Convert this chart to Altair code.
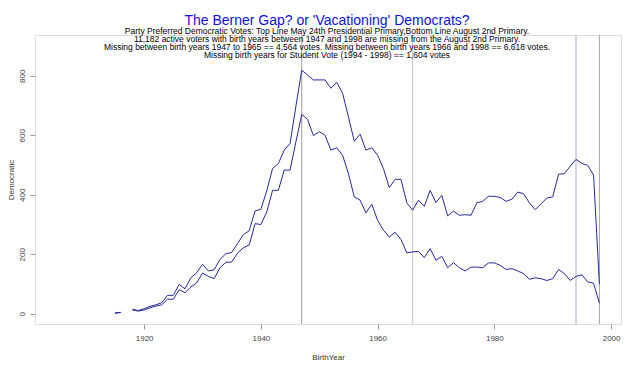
import altair as alt
import pandas as pd

# ---- data ----
years = [1915, 1916] + list(range(1918, 1999))
segment = [0, 0] + [1] * (len(years) - 2)

top_line = [3, 5,
    15, 11, 17, 25, 30, 37, 62, 62, 99, 84,
    121, 138, 166, 144, 148, 183, 202, 206, 236, 266,
    279, 346, 351, 413, 488, 505, 550, 572, 698, 819,
    802, 786, 786, 786, 758, 778, 741, 662, 580, 604,
    550, 558, 533, 488, 424, 452, 452, 373, 348, 382,
    361, 415, 374, 398, 329, 345, 331, 333, 331, 373,
    378, 395, 395, 391, 378, 385, 409, 404, 373, 350,
    370, 389, 393, 469, 471, 496, 519, 505, 499, 466,
    99]

bottom_line = [2, 4,
    13, 9, 13, 20, 26, 30, 49, 49, 81, 71,
    90, 104, 137, 126, 118, 155, 173, 174, 204, 222,
    231, 303, 300, 342, 415, 415, 483, 483, 578, 670,
    653, 599, 612, 600, 550, 558, 533, 471, 393, 382,
    339, 368, 314, 281, 258, 274, 250, 205, 208, 210,
    189, 219, 180, 193, 155, 172, 155, 144, 157, 157,
    155, 171, 171, 163, 149, 152, 144, 135, 116, 121,
    118, 112, 118, 149, 135, 112, 126, 131, 107, 103,
    36]

vline_years = [1947, 1966, 1994, 1998]
vline_colors = ["#9c9c9c", "#c4c4c4", "#d4d4e6", "#a4a4a4"]
vline_widths = [1, 1, 2, 1]

x_ticks = [1920, 1940, 1960, 1980, 2000]
y_ticks = [0, 200, 400, 600, 800]

title_text = "The Berner Gap? or 'Vacationing' Democrats?"
subtitle_lines = [
    "Party Preferred Democratic Votes: Top Line May 24th Presidential Primary,Bottom Line August 2nd Primary.",
    "11,182 active voters with birth years between 1947 and 1998 are missing from the August 2nd Primary.",
    "Missing between birth years 1947 to 1965 == 4,564 votes. Missing between birth years 1966 and 1998 == 6,618 votes.",
    "Missing birth years for Student Vote (1994 - 1998) == 1,604 votes",
]

# ---- tables ----
rows = []
for name, vals in (("top", top_line), ("bottom", bottom_line)):
    for yr, sg, v in zip(years, segment, vals):
        rows.append({"BirthYear": yr, "Democratic": v, "key": f"{name}-{sg}"})
df = pd.DataFrame(rows)

vdf = pd.DataFrame({"year": vline_years, "col": vline_colors, "w": vline_widths})

W, H = 586, 289
x_scale = alt.Scale(domain=[1901.3, 2001.7], nice=False, zero=False)
y_scale = alt.Scale(domain=[-34.3, 937], nice=False, zero=False)

lines = alt.Chart(df).mark_line(color="#27279a", strokeWidth=1).encode(
    x=alt.X("BirthYear:Q", scale=x_scale,
            axis=alt.Axis(values=x_ticks, format="d", title="BirthYear", grid=False,
                          domain=False, tickColor="#9a9a9a", tickSize=5,
                          labelFont="Liberation Sans", labelFontSize=8, labelColor="#444444",
                          labelPadding=5, titleFont="Liberation Sans", titleFontSize=8,
                          titleFontWeight="normal", titleColor="#333333", titlePadding=11)),
    y=alt.Y("Democratic:Q", scale=y_scale,
            axis=alt.Axis(values=y_ticks, title="Democratic", grid=False, domain=False,
                          tickColor="#9a9a9a", tickSize=5, labelAngle=-90,
                          labelAlign="center", labelBaseline="bottom",
                          labelFont="Liberation Sans", labelFontSize=8, labelColor="#444444",
                          labelPadding=4, titleFont="Liberation Sans", titleFontSize=8,
                          titleFontWeight="normal", titleColor="#333333", titlePadding=3)),
    detail="key:N",
)

rules = alt.Chart(vdf).mark_rule().encode(
    x=alt.X("year:Q", scale=x_scale),
    color=alt.Color("col:N", scale=None),
    strokeWidth=alt.StrokeWidth("w:Q", scale=None),
)

title_mark = alt.Chart(pd.DataFrame({"t": [title_text]})).mark_text(
    font="Liberation Sans", fontSize=14, color="#1010e0", align="center", baseline="alphabetic"
).encode(text="t:N", x=alt.value(W / 2 - 1), y=alt.value(-10))

sub_mark = alt.Chart(pd.DataFrame({"t": ["\n".join(subtitle_lines)]})).mark_text(
    font="Liberation Sans", fontSize=8.5, color="#000000", align="center",
    baseline="alphabetic", lineBreak="\n", lineHeight=8.3
).encode(text="t:N", x=alt.value(W / 2 - 1), y=alt.value(-1.5))

chart = alt.layer(rules, lines, title_mark, sub_mark).properties(
    width=W, height=H,
    autosize=alt.AutoSizeParams(type="none"),
    padding={"left": 27, "top": 27, "right": 10, "bottom": 36},
).configure_view(stroke="#aaaaaa", strokeWidth=1).configure(background="white")

chart.save("out.html", embed_options={"renderer": "svg", "actions": False})
